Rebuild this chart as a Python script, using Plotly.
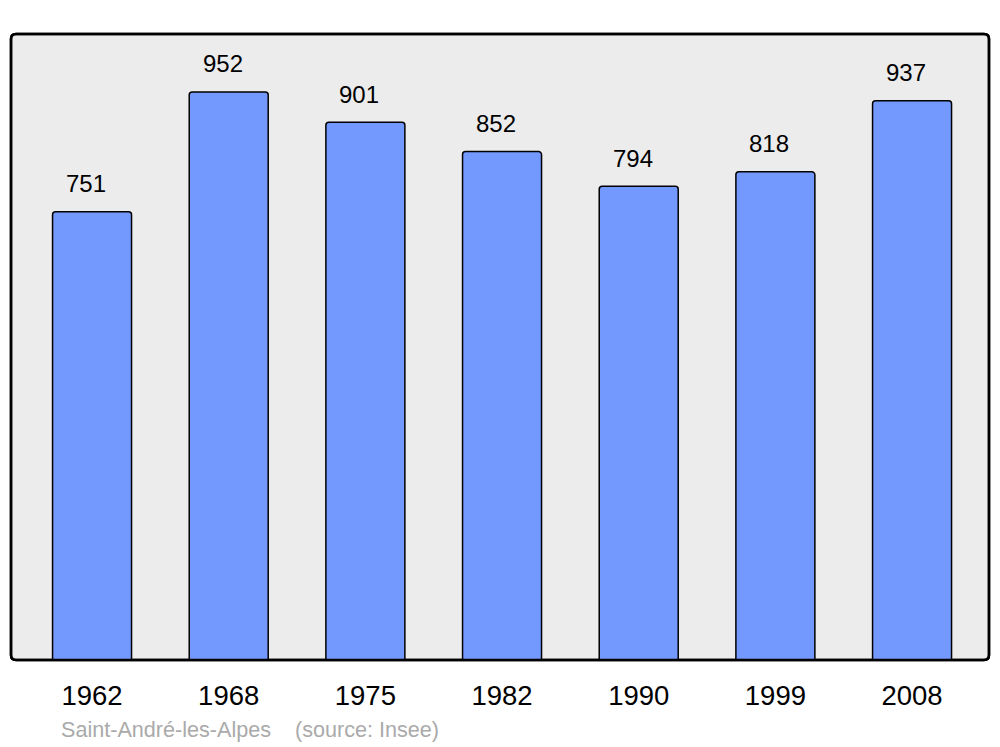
import plotly.graph_objects as go

years = ["1962", "1968", "1975", "1982", "1990", "1999", "2008"]
population = [751, 952, 901, 852, 794, 818, 937]
source_text = "Saint-André-les-Alpes    (source: Insee)"

BAR_COLOR = "#7399FF"
BG = "#ECECEC"
FONT = "Liberation Sans, Arial, sans-serif"

fig = go.Figure()
fig.add_trace(go.Bar(
    x=years, y=population,
    width=0.578,
    marker=dict(color=BAR_COLOR, line=dict(color="black", width=1.5)),
    hoverinfo="skip",
))

for i, v in enumerate(population):
    fig.add_annotation(x=i, y=v, text=str(v), showarrow=False,
                       xanchor="center", yanchor="middle",
                       xshift=-6, yshift=28,
                       font=dict(family=FONT, size=24, color="black"))

fig.add_annotation(xref="paper", yref="paper", x=0.0491, y=-0.1118,
                   text=source_text, showarrow=False,
                   xanchor="left", yanchor="middle",
                   font=dict(family=FONT, size=21.6, color="#AAAAAA"))

# rounded frame around plot area
rx, ry = 5 / 978, 5 / 626
path = (f"M {rx},0 L {1-rx},0 Q 1,0 1,{ry} L 1,{1-ry} Q 1,1 {1-rx},1 "
        f"L {rx},1 Q 0,1 0,{1-ry} L 0,{ry} Q 0,0 {rx},0 Z")
fig.add_shape(type="path", path=path, xref="paper", yref="paper",
              fillcolor=BG, line=dict(color="black", width=2.5), layer="below")
fig.add_shape(type="path", path=path, xref="paper", yref="paper",
              fillcolor="rgba(0,0,0,0)", line=dict(color="black", width=2.5), layer="above")

fig.update_layout(
    width=1000, height=747,
    margin=dict(l=11, r=11, t=34, b=87),
    paper_bgcolor="white", plot_bgcolor="rgba(0,0,0,0)",
    barcornerradius=3,
    showlegend=False,
    font=dict(family=FONT),
    xaxis=dict(type="category", range=[-0.593, 6.563], showgrid=False,
               zeroline=False, showline=False, ticks="",
               tickfont=dict(family=FONT, size=27.5, color="black"),
               ticklabelstandoff=16),
    yaxis=dict(range=[0, 1049], showgrid=False, zeroline=False,
               showline=False, showticklabels=False, ticks=""),
)

fig.write_html("out.html", config={"displayModeBar": False},
               post_script="document.body.style.margin='0';")
